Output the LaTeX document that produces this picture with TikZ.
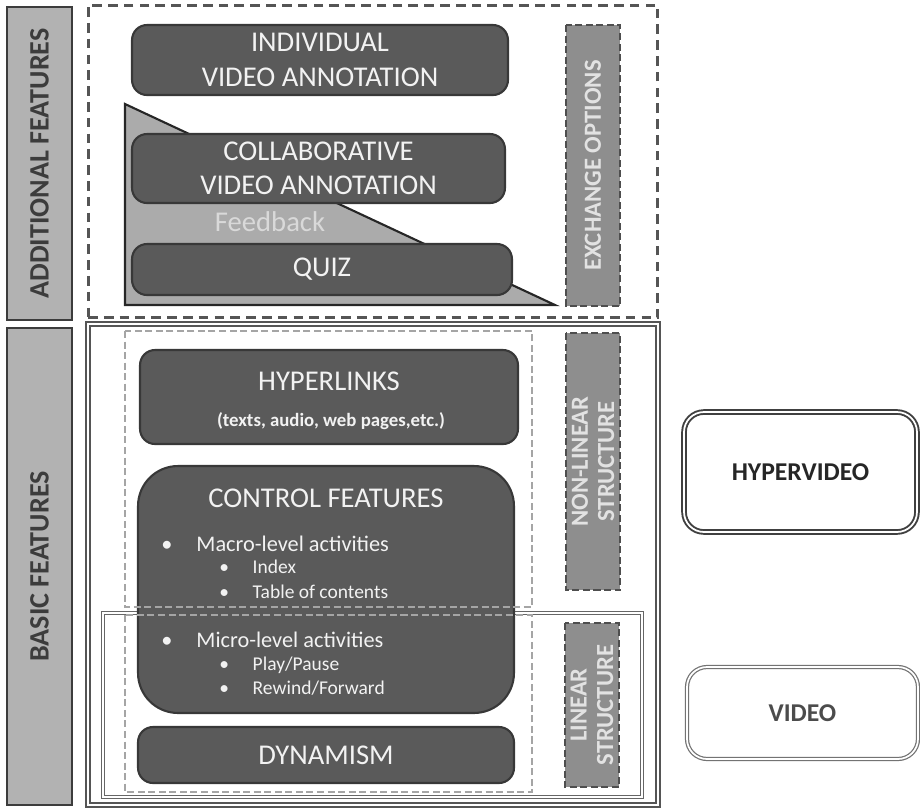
\documentclass[tikz,border=0pt]{standalone}
\usepackage{fontspec}
\setmainfont{Carlito}
\usepackage{xcolor}
\usepackage{tikz}
\usetikzlibrary{shapes.geometric}

\definecolor{barfill}{HTML}{B2B2B2}
\definecolor{barline}{HTML}{3C3C3C}
\definecolor{boxfill}{HTML}{5A5A5A}
\definecolor{boxline}{HTML}{383838}
\definecolor{boxtext}{HTML}{F2F2F2}
\definecolor{optfill}{HTML}{8E8E8E}
\definecolor{optline}{HTML}{4E4E4E}
\definecolor{opttext}{HTML}{E2E2E2}
\definecolor{trifill}{HTML}{ABABAB}
\definecolor{frameline}{HTML}{555555}
\definecolor{faint}{HTML}{A5A5A5}

\begin{document}
\begin{tikzpicture}[x=0.02cm, y=-0.02cm,
	sidebar/.style={draw=barline, fill=barfill, line width=1.6pt, rectangle, rotate=90, minimum height=1.3cm, text=barline, font=\fontsize{16}{18}\selectfont\bfseries},
	featbox/.style={draw=boxline, fill=boxfill, line width=1.2pt, rectangle, rounded corners=0.3cm, text=boxtext, align=center, font=\fontsize{16.3}{19.5}\selectfont},
	optbar/.style={draw=optline, fill=optfill, line width=1.4pt, dash pattern=on 4pt off 2pt, rectangle, rotate=90, text=opttext, align=center, font=\fontsize{14}{15}\selectfont\bfseries},
	mediabox/.style={rectangle, rounded corners=0.4cm, double=white, font=\fontsize{14.6}{17}\selectfont\bfseries},
	listitem/.style={anchor=west, text=boxtext, inner sep=0, font=\fontsize{12.7}{15}\selectfont},
	sublistitem/.style={anchor=west, text=boxtext, inner sep=0, font=\fontsize{11.1}{13}\selectfont}]
	\useasboundingbox (0,0) rectangle (920,809);

	\node[sidebar, minimum width=6.26cm] (addbar) at (39.5,163.5) {ADDITIONAL FEATURES};
	\node[sidebar, minimum width=9.54cm] (basicbar) at (39.5,566.5) {BASIC FEATURES};

	\node[draw=frameline, line width=1.7pt, dash pattern=on 5.5pt off 3.5pt, rectangle, minimum width=11.4cm, minimum height=6.26cm] (addframe) at (373,161.5) {};
	\filldraw[fill=trifill, draw=black!85, line width=1.2pt] (125,104) -- (125,305) -- (555,305) -- cycle;
	\node[featbox, minimum width=7.52cm, minimum height=1.4cm] (individual) at (320,60) {INDIVIDUAL\\VIDEO ANNOTATION};
	\node[featbox, minimum width=7.46cm, minimum height=1.38cm] (collab) at (318.5,168.5) {COLLABORATIVE\\VIDEO ANNOTATION};
	\node[text=black!15, font=\fontsize{16.3}{19}\selectfont] (feedback) at (270,222) {Feedback};
	\node[featbox, minimum width=7.6cm, minimum height=1.02cm] (quiz) at (322,269.5) {QUIZ};
	\node[optbar, minimum width=5.62cm, minimum height=1.08cm] (exchange) at (593,165.5) {EXCHANGE OPTIONS};

	\node[draw=frameline, line width=1.1pt, double=white, double distance=0.8pt, rectangle, minimum width=11.4cm, minimum height=9.62cm] (basicframe) at (373,564.5) {};
	\node[draw=black!60, line width=0.6pt, double=white, double distance=0.8pt, rectangle, minimum width=10.78cm, minimum height=3.68cm] (linframe) at (372.5,705) {};

	\node[featbox, minimum width=7.56cm, minimum height=1.88cm] (hyperlinks) at (329,397) {};
	\node[text=boxtext, font=\fontsize{16.3}{19}\selectfont] (hyptitle) at (329,381) {HYPERLINKS};
	\node[text=boxtext, font=\fontsize{10.7}{13}\selectfont\bfseries] (hypsub) at (331,421) {(texts, audio, web pages,etc.)};

	\node[featbox, rounded corners=0.8cm, minimum width=7.52cm, minimum height=4.94cm] (control) at (326,589.5) {};
	\node[text=boxtext, font=\fontsize{16.3}{19}\selectfont] (ctrltitle) at (326,498) {CONTROL FEATURES};
	\node[listitem] (macro) at (161,544) {\makebox[20pt][l]{\textbullet}Macro-level activities};
	\node[sublistitem] (index) at (219,567) {\makebox[19pt][l]{\textbullet}Index};
	\node[sublistitem] (toc) at (219,592) {\makebox[19pt][l]{\textbullet}Table of contents};
	\node[listitem] (micro) at (161,640) {\makebox[20pt][l]{\textbullet}Micro-level activities};
	\node[sublistitem] (play) at (219,665) {\makebox[19pt][l]{\textbullet}Play/Pause};
	\node[sublistitem] (rewind) at (219,688) {\makebox[19pt][l]{\textbullet}Rewind/Forward};

	\node[featbox, minimum width=7.52cm, minimum height=1.12cm] (dynamism) at (326,755) {DYNAMISM};

	\draw[faint, line width=1.2pt, dash pattern=on 4pt off 2pt] (125,331) rectangle (532,607);
	\draw[faint, line width=1.2pt, dash pattern=on 4pt off 2pt] (125,615) rectangle (532,792);

	\node[optbar, minimum width=5.14cm, minimum height=1.08cm] (nonlinear) at (593,461.5) {NON-LINEAR\\STRUCTURE};
	\node[optbar, minimum width=3.28cm, minimum height=1.04cm] (linear) at (592,705) {LINEAR\\STRUCTURE};

	\node[mediabox, draw=black!75, line width=1.1pt, double distance=1pt, minimum width=4.66cm, minimum height=2.4cm, text=black!85] (hypervideo) at (800.5,472) {HYPERVIDEO};
	\node[mediabox, draw=black!55, line width=0.7pt, double distance=1pt, minimum width=4.62cm, minimum height=1.84cm, text=black!70] (video) at (802.5,713) {VIDEO};
\end{tikzpicture}
\end{document}
